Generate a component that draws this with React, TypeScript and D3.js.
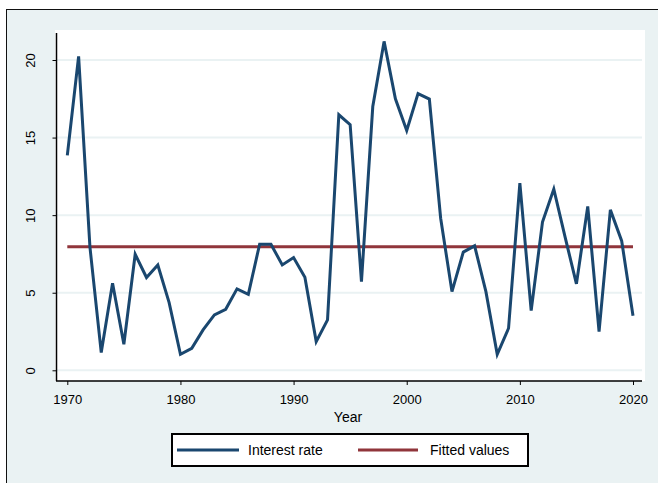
import React, { useRef, useEffect } from 'react';
import * as d3 from 'd3';

const years = d3.range(1970, 2021);
const interestRate = [
  13.85, 20.23, 7.95, 1.14, 5.61, 1.68, 7.48, 5.98, 6.79, 4.36,
  1.03, 1.42, 2.6, 3.57, 3.93, 5.25, 4.9, 8.13, 8.13, 6.79,
  7.27, 6.0, 1.85, 3.25, 16.47, 15.83, 5.72, 17.0, 21.2, 17.5,
  15.46, 17.83, 17.48, 9.8, 5.07, 7.62, 8.02, 5.07, 1.03, 2.71,
  12.06, 3.85, 9.55, 11.68, 8.58, 5.57, 10.56, 2.49, 10.34, 8.34,
  3.52,
];
const fittedValue = 7.97;
const xTicks = [1970, 1980, 1990, 2000, 2010, 2020];
const yTicks = [0, 5, 10, 15, 20];
const legendLabels = ['Interest rate', 'Fitted values'];

const W = 658;
const H = 483;
const BG = '#eaf2f3';
const BLUE = '#1a476f';
const RED = '#90353b';
const FONT = '"Liberation Sans", Arial, sans-serif';

export default function App() {
  const ref = useRef<SVGSVGElement>(null);

  useEffect(() => {
    if (!ref.current) return;
    const svg = d3.select(ref.current);
    svg.selectAll('*').remove();

    const plot = { left: 55, right: 645, top: 30, bottom: 381 };
    const x = d3.scaleLinear().domain([1970, 2020]).range([67.3, 633]);
    const y = d3.scaleLinear().domain([0, 20]).range([370.3, 60]);

    // outer frame
    svg.append('rect')
      .attr('x', 6.5).attr('y', 9.5)
      .attr('width', W).attr('height', H)
      .attr('fill', BG).attr('stroke', '#111').attr('stroke-width', 1);

    svg.append('rect')
      .attr('x', plot.left).attr('y', plot.top)
      .attr('width', plot.right - plot.left).attr('height', plot.bottom - plot.top)
      .attr('fill', '#fff');

    // gridlines
    svg.append('g').selectAll('line').data(yTicks).join('line')
      .attr('x1', 57).attr('x2', 642)
      .attr('y1', d => y(d)).attr('y2', d => y(d))
      .attr('stroke', BG).attr('stroke-width', 2);

    // fitted values
    svg.append('line')
      .attr('x1', x(1970)).attr('x2', x(2020))
      .attr('y1', y(fittedValue)).attr('y2', y(fittedValue))
      .attr('stroke', RED).attr('stroke-width', 3);

    const line = d3.line<number>().x((_, i) => x(years[i])).y(d => y(d));
    svg.append('path')
      .datum(interestRate)
      .attr('d', line)
      .attr('fill', 'none')
      .attr('stroke', BLUE)
      .attr('stroke-width', 3)
      .attr('stroke-linejoin', 'miter');

    // axes
    const xAxis = svg.append('g')
      .attr('transform', `translate(0,${plot.bottom})`)
      .call(d3.axisBottom(x).tickValues(xTicks).tickFormat(d3.format('d')).tickSize(4).tickSizeOuter(0).tickPadding(10));
    xAxis.select('.domain').attr('d', `M${plot.left + 1},0H642`).attr('stroke', '#000').attr('stroke-width', 1.5);
    xAxis.selectAll('text').attr('font-family', FONT).attr('font-size', 13).attr('fill', '#000');

    const yAxis = svg.append('g')
      .attr('transform', `translate(${plot.left + 1.5},0)`)
      .call(d3.axisLeft(y).tickValues(yTicks).tickSize(4).tickSizeOuter(0));
    yAxis.select('.domain').attr('d', `M0,33V${plot.bottom}`).attr('stroke', '#000').attr('stroke-width', 1.5);
    yAxis.selectAll('text')
      .attr('font-family', FONT).attr('font-size', 13).attr('fill', '#000')
      .attr('x', null).attr('dy', null)
      .attr('text-anchor', 'middle')
      .attr('transform', 'translate(-25,0) rotate(-90)')
      .attr('dominant-baseline', 'middle');

    svg.append('text')
      .attr('x', 348).attr('y', 422)
      .attr('text-anchor', 'middle')
      .attr('font-family', FONT).attr('font-size', 14)
      .text('Year');

    // legend
    const lg = svg.append('g');
    lg.append('rect')
      .attr('x', 172).attr('y', 434)
      .attr('width', 356).attr('height', 32)
      .attr('fill', '#fff').attr('stroke', '#000').attr('stroke-width', 2);
    const items = [
      { x1: 177, x2: 239, tx: 248, color: BLUE },
      { x1: 358, x2: 418, tx: 430, color: RED },
    ];
    items.forEach((it, i) => {
      lg.append('line')
        .attr('x1', it.x1).attr('x2', it.x2)
        .attr('y1', 450).attr('y2', 450)
        .attr('stroke', it.color).attr('stroke-width', 3);
      lg.append('text')
        .attr('x', it.tx).attr('y', 455)
        .attr('font-family', FONT).attr('font-size', 14)
        .text(legendLabels[i]);
    });
  }, []);

  return (
    <svg
      ref={ref}
      width={W}
      height={H}
      style={{ position: 'absolute', left: 0, top: 0, background: '#fff' }}
    />
  );
}
